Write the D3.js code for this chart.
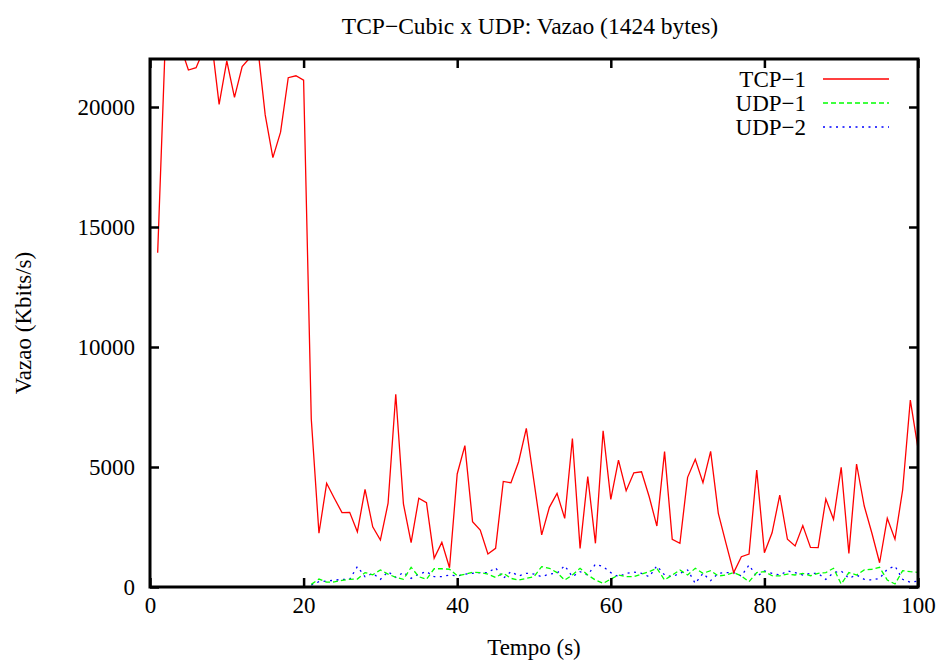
<!DOCTYPE html>
<html>
<head>
<meta charset="utf-8">
<script src="https://cdn.jsdelivr.net/npm/d3@7"></script>
<style>
  html, body { margin: 0; padding: 0; background: #fff; }
  svg { display: block; }
</style>
</head>
<body>
<svg id="chart" width="943" height="661"></svg>
<script>
// Throughput per second (Kbits/s)
const tcpTime = d3.range(1, 101);
const tcp1 = [
  13930, 22800, 22900, 22500, 21540, 21640, 22390, 22810, 20110, 21920,
  20400, 21680, 22050, 22580, 19670, 17890, 18950, 21220, 21300, 21120,
  7000, 2240, 4320, 3700, 3100, 3110, 2300, 4070, 2510, 1960,
  3490, 8030, 3460, 1850, 3700, 3510, 1200, 1860, 800, 4710,
  5890, 2720, 2375, 1375, 1610, 4400, 4340, 5220, 6610, 4390,
  2170, 3320, 3900, 2860, 6190, 1610, 4600, 1820, 6510, 3650,
  5290, 4010, 4760, 4800, 3760, 2540, 5640, 1990, 1820, 4570,
  5320, 4350, 5650, 3070, 1820, 600, 1260, 1375, 4875, 1430,
  2260, 3830, 1990, 1710, 2560, 1650, 1640, 3670, 2820, 4990,
  1400, 5125, 3375, 2240, 1010, 2860, 1990, 4040, 7790, 5780
];
const udpTime = d3.range(21, 101);
const udp1 = [
  110, 330, 200, 210, 280, 320, 330, 600, 510, 710,
  540, 400, 320, 820, 430, 320, 760, 760, 740, 470,
  530, 610, 600, 540, 400, 580, 360, 290, 360, 430,
  850, 780, 600, 290, 500, 780, 500, 290, 150, 330,
  500, 430, 430, 540, 640, 780, 290, 500, 710, 500,
  780, 570, 680, 460, 500, 600, 460, 220, 600, 640,
  470, 460, 540, 500, 570, 470, 570, 600, 780, 125,
  600, 500, 710, 740, 820, 290, 125, 680, 640, 610
];
const udp2 = [
  80, 220, 250, 280, 320, 320, 850, 430, 570, 320,
  640, 400, 610, 360, 540, 640, 430, 430, 500, 460,
  530, 570, 600, 600, 800, 360, 640, 460, 570, 540,
  430, 540, 570, 890, 430, 640, 500, 950, 850, 600,
  430, 570, 620, 570, 430, 880, 500, 430, 570, 710,
  150, 570, 265, 570, 600, 600, 460, 917, 430, 667,
  570, 500, 667, 600, 500, 570, 570, 320, 600, 667,
  360, 500, 320, 290, 360, 740, 875, 320, 195, 250
];
const xTicks = [0, 20, 40, 60, 80, 100];
const yTicks = [0, 5000, 10000, 15000, 20000];

const seriesList = [
  { name: "TCP\u22121", t: tcpTime, v: tcp1, color: "#ff0000", dash: null },
  { name: "UDP\u22121", t: udpTime, v: udp1, color: "#00ff00", dash: "5,3" },
  { name: "UDP\u22122", t: udpTime, v: udp2, color: "#0000ff", dash: "2,4.5" }
];

const FONT = "'Liberation Serif', 'Times New Roman', 'DejaVu Serif', serif";
const fs = 23;

const svg = d3.select("#chart");
const L = 150, R = 918, T = 59, B = 587;
const x = d3.scaleLinear().domain([0, 100]).range([L, R]);
const y = d3.scaleLinear().domain([0, 22000]).range([B, T]);

svg.append("defs").append("clipPath").attr("id", "plotClip")
  .append("rect").attr("x", L).attr("y", T).attr("width", R - L).attr("height", B - T);

// series
const line = d3.line().x(d => x(d[0])).y(d => y(d[1]));
const plot = svg.append("g").attr("clip-path", "url(#plotClip)");
seriesList.slice().reverse().forEach(s => {
  plot.append("path")
    .datum(s.t.map((t, i) => [t, s.v[i]]))
    .attr("d", line)
    .attr("fill", "none")
    .attr("stroke", s.color)
    .attr("stroke-width", 1.3)
    .attr("stroke-dasharray", s.dash);
});

// axes: inward ticks on all four sides
function styleAxis(g) {
  g.attr("font-family", FONT).attr("font-size", fs);
  g.select(".domain").remove();
  g.selectAll(".tick line").attr("stroke", "#000").attr("stroke-width", 2.5);
  g.selectAll("text").attr("fill", "#000");
}
svg.append("g").attr("transform", `translate(0,${B})`)
  .call(d3.axisBottom(x).tickValues(xTicks).tickSizeInner(-9).tickSizeOuter(0).tickPadding(10).tickFormat(d3.format("d")))
  .call(styleAxis);
svg.append("g").attr("transform", `translate(0,${T})`)
  .call(d3.axisTop(x).tickValues(xTicks).tickSizeInner(-9).tickSizeOuter(0).tickFormat(""))
  .call(styleAxis);
svg.append("g").attr("transform", `translate(${L},0)`)
  .call(d3.axisLeft(y).tickValues(yTicks).tickSizeInner(-9).tickSizeOuter(0).tickPadding(15).tickFormat(d3.format("d")))
  .call(styleAxis);
svg.append("g").attr("transform", `translate(${R},0)`)
  .call(d3.axisRight(y).tickValues(yTicks).tickSizeInner(-9).tickSizeOuter(0).tickFormat(""))
  .call(styleAxis);

// border
svg.append("rect").attr("x", L).attr("y", T).attr("width", R - L).attr("height", B - T)
  .attr("fill", "none").attr("stroke", "#000").attr("stroke-width", 3);

// titles
const txt = svg.append("g").attr("font-family", FONT).attr("fill", "#000");
txt.append("text").attr("x", 530).attr("y", 34).attr("text-anchor", "middle")
  .attr("font-size", 23.5).text("TCP\u2212Cubic x UDP: Vazao (1424 bytes)");
txt.append("text").attr("x", (L + R) / 2).attr("y", 655).attr("text-anchor", "middle")
  .attr("font-size", fs).text("Tempo (s)");
txt.append("text").attr("transform", `translate(31,${(T + B) / 2}) rotate(-90)`).attr("text-anchor", "middle")
  .attr("font-size", fs).text("Vazao (Kbits/s)");

// legend
seriesList.forEach((s, i) => {
  const ly = 79 + i * 24;
  txt.append("text").attr("x", 806).attr("y", ly).attr("dy", "0.35em").attr("text-anchor", "end")
    .attr("font-size", fs).text(s.name);
  svg.append("line").attr("x1", 823).attr("x2", 889).attr("y1", ly).attr("y2", ly)
    .attr("stroke", s.color).attr("stroke-width", 1.3).attr("stroke-dasharray", s.dash);
});
</script>
</body>
</html>
